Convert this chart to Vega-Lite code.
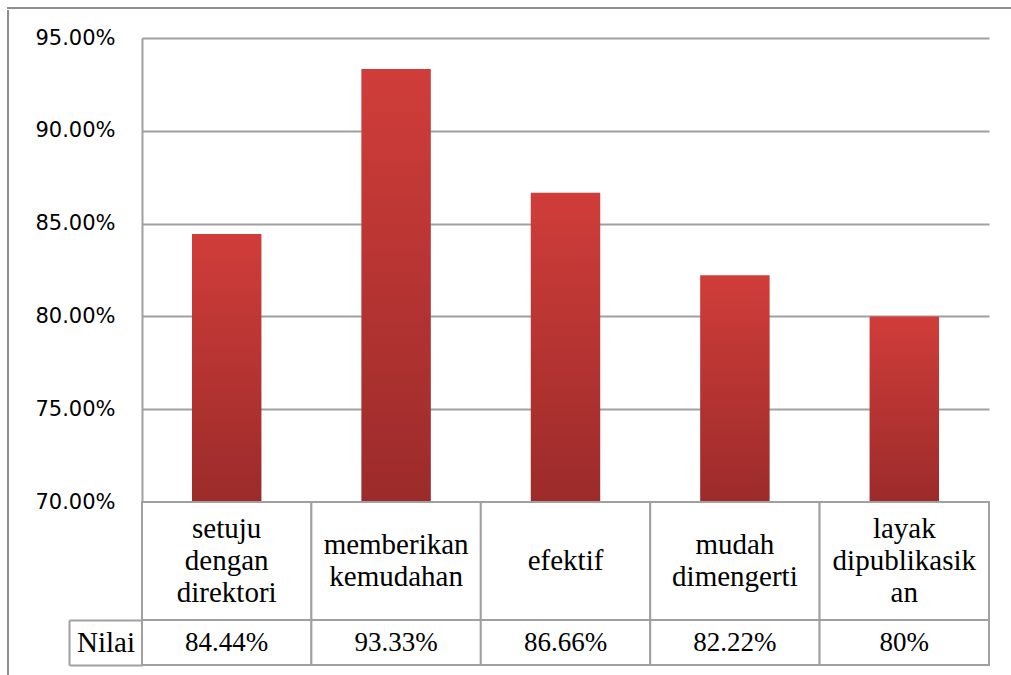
{
  "$schema": "https://vega.github.io/schema/vega-lite/v6.json",
  "padding": {"left": 7, "top": 7, "right": 0, "bottom": 0},
  "background": "white",
  "config": {"view": {"stroke": null}},
  "datasets": {
    "rows": [
      {"kategori": "setuju dengan direktori", "judul": ["setuju", "dengan", "direktori"], "nilai": 0.8444, "teks": "84.44%", "baris": "Nilai"},
      {"kategori": "memberikan kemudahan", "judul": ["memberikan", "kemudahan"], "nilai": 0.9333, "teks": "93.33%", "baris": "Nilai"},
      {"kategori": "efektif", "judul": ["efektif"], "nilai": 0.8666, "teks": "86.66%", "baris": "Nilai"},
      {"kategori": "mudah dimengerti", "judul": ["mudah", "dimengerti"], "nilai": 0.8222, "teks": "82.22%", "baris": "Nilai"},
      {"kategori": "layak dipublikasikan", "judul": ["layak", "dipublikasik", "an"], "nilai": 0.80, "teks": "80%", "baris": "Nilai"}
    ],
    "kosong": []
  },
  "spacing": 0,
  "vconcat": [
    {
      "width": 1002,
      "height": 0.01,
      "view": {"stroke": "#8E8E8E", "strokeWidth": 2},
      "data": {"name": "kosong"},
      "mark": {"type": "point"}
    },
    {
      "spacing": 133,
      "bounds": "flush",
      "hconcat": [
        {
          "width": 0.01,
          "height": 664,
          "view": {"stroke": "#8E8E8E", "strokeWidth": 2},
          "data": {"name": "kosong"},
          "mark": {"type": "point"}
        },
        {
          "spacing": 0,
          "bounds": "flush",
          "resolve": {"scale": {"x": "independent", "y": "independent"}},
          "vconcat": [
            {
              "width": 847,
              "height": 27,
              "data": {"name": "kosong"},
              "mark": {"type": "point"}
            },
            {
              "width": 847,
              "height": 464,
              "data": {"name": "rows"},
              "mark": {
                "type": "bar",
                "color": {
                  "gradient": "linear", "x1": 0, "y1": 0, "x2": 0, "y2": 1,
                  "stops": [{"offset": 0, "color": "#D03D3A"}, {"offset": 1, "color": "#9B2B2A"}]
                }
              },
              "encoding": {
                "x": {
                  "field": "kategori", "type": "nominal", "sort": null,
                  "scale": {"paddingInner": 0.59, "paddingOuter": 0.295},
                  "axis": null
                },
                "y": {
                  "field": "nilai", "type": "quantitative",
                  "scale": {"domain": [0.7, 0.95], "nice": false, "zero": false},
                  "axis": {
                    "values": [0.7, 0.75, 0.8, 0.85, 0.9, 0.95],
                    "format": ".2%",
                    "title": null,
                    "ticks": false,
                    "labelFont": "DejaVu Sans",
                    "labelFontSize": 21,
                    "labelColor": "black",
                    "labelPadding": 27,
                    "domainColor": "#A0A0A0",
                    "domainWidth": 2,
                    "gridColor": "#A0A0A0",
                    "gridWidth": 2
                  }
                },
                "y2": {"datum": 0.7}
              }
            },
            {
              "width": 847,
              "height": 118,
              "data": {"name": "rows"},
              "encoding": {
                "x": {"field": "kategori", "type": "nominal", "sort": null, "scale": {"paddingInner": 0, "paddingOuter": 0}, "axis": null}
              },
              "layer": [
                {"mark": {"type": "rect", "fill": "white", "stroke": "#A0A0A0", "strokeWidth": 2}},
                {
                  "transform": [{"filter": "length(datum.judul) == 3"}],
                  "mark": {"type": "text", "font": "Liberation Serif", "fontSize": 29, "lineHeight": 32, "color": "black", "dy": -32},
                  "encoding": {"text": {"field": "judul"}}
                },
                {
                  "transform": [{"filter": "length(datum.judul) == 2"}],
                  "mark": {"type": "text", "font": "Liberation Serif", "fontSize": 29, "lineHeight": 32, "color": "black", "dy": -16},
                  "encoding": {"text": {"field": "judul"}}
                },
                {
                  "transform": [{"filter": "length(datum.judul) == 1"}],
                  "mark": {"type": "text", "font": "Liberation Serif", "fontSize": 29, "lineHeight": 32, "color": "black"},
                  "encoding": {"text": {"field": "judul"}}
                }
              ]
            },
            {
              "width": 847,
              "height": 45,
              "data": {"name": "rows"},
              "encoding": {
                "x": {"field": "kategori", "type": "nominal", "sort": null, "scale": {"paddingInner": 0, "paddingOuter": 0}, "axis": null},
                "y": {
                  "field": "baris", "type": "nominal",
                  "scale": {"paddingInner": 0, "paddingOuter": 0},
                  "axis": {
                    "orient": "left",
                    "offset": 73,
                    "tickBand": "extent",
                    "tickSize": -73,
                    "tickColor": "#A0A0A0",
                    "tickWidth": 2,
                    "domainColor": "#A0A0A0",
                    "domainWidth": 2,
                    "labelFont": "Liberation Serif",
                    "labelFontSize": 29,
                    "labelColor": "black",
                    "labelAlign": "center",
                    "labelPadding": 36.5,
                    "title": null,
                    "grid": false
                  }
                }
              },
              "layer": [
                {"mark": {"type": "rect", "fill": "white", "stroke": "#A0A0A0", "strokeWidth": 2}},
                {
                  "mark": {"type": "text", "font": "Liberation Serif", "fontSize": 27, "color": "black"},
                  "encoding": {"text": {"field": "teks"}}
                }
              ]
            }
          ]
        }
      ]
    }
  ]
}
